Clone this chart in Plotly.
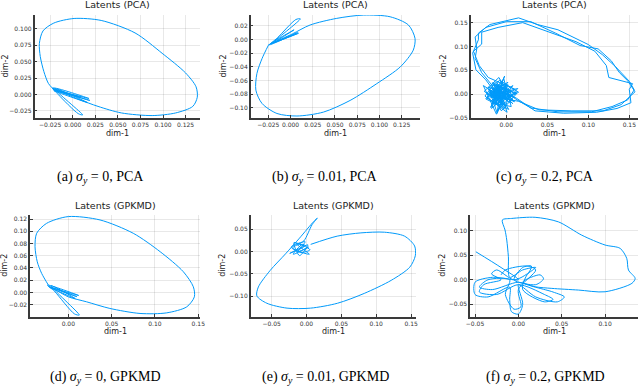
import plotly.graph_objects as go

W, H = 640, 388
LINE = "#009AFA"

# ---------------- data ----------------
a_x = [-0.022, -0.027, -0.032, -0.036, -0.037, -0.033, -0.021, 0.0015, 0.0315, 0.069, 0.099, 0.125, 0.1366, 0.138,
       0.133, 0.114, 0.088, 0.054, 0.028, 0.008, -0.008,
       -0.022, 0.019, -0.021, 0.016, -0.020, 0.011, 0.006, -0.016, -0.022, 0.018, -0.020, 0.008, -0.023]
a_y = [0.009, 0.017, 0.035, 0.058, 0.078, 0.097, 0.109, 0.116, 0.113, 0.094, 0.063, 0.033, 0.012, -0.004,
       -0.018, -0.028, -0.032, -0.028, -0.018, -0.008, 0.001,
       0.008, -0.009, 0.006, -0.012, 0.009, -0.031, -0.029, 0.000, 0.010, -0.006, 0.007, -0.004, 0.010]

b_x = [-0.0248, -0.032, -0.0378, -0.039, -0.032, -0.0153, 0.0072, 0.037, 0.067, 0.097, 0.1235, 0.138, 0.140,
       0.1326, 0.112, 0.082, 0.052, 0.022, 0.002, -0.018,
       0.009, -0.022, 0.004, -0.020, 0.011, 0.006, -0.015, -0.024, 0.008, -0.025]
b_y = [-0.0083, -0.0278, -0.0497, -0.074, -0.0935, -0.108, -0.1117, -0.106, -0.089, -0.0645, -0.040, -0.0157, 0.0015,
       0.021, 0.033, 0.0355, 0.0307, 0.021, 0.008, -0.004,
       0.009, -0.006, 0.014, -0.005, 0.030, 0.029, 0.002, -0.008, 0.010, -0.008]

c_x = [0.013, -0.005, 0.008, -0.012, 0.002, -0.020, -0.003, -0.015, 0.010, -0.008, -0.025, -0.002, 0.006, -0.018,
       -0.010, 0.004, -0.022, -0.006, 0.012, -0.014,
       0.013, 0.030, 0.063, 0.104, 0.129, 0.148, 0.156, 0.150, 0.133, 0.117, 0.100, 0.063, 0.038, 0.015, -0.020,
       -0.034, -0.034, -0.041, -0.037, -0.025,
       -0.001, -0.027, -0.009, 0.007, -0.016, 0.001, -0.011, -0.021, 0.005, -0.007, 0.015, -0.013, -0.004, -0.024,
       0.003, -0.017, 0.009, -0.010, -0.002, -0.019,
       -0.012, -0.004, -0.016, -0.007, -0.013, 0.001, -0.010, -0.018, -0.006, -0.014, -0.002, -0.011, -0.020,
       -0.008, 0.003, -0.015, -0.005, -0.012, -0.019, -0.003,
       0.012, 0.035, 0.070, 0.110, 0.135, 0.152, 0.150, 0.154, 0.125, 0.122, 0.108, 0.085, 0.050, 0.020, -0.010,
       -0.030, -0.030, -0.040, -0.033, -0.022,
       0.011, -0.006, -0.028, -0.012, 0.002, -0.008, -0.016, 0.006, -0.003, -0.020, 0.014, -0.011, -0.005, -0.023,
       0.000, -0.014, 0.008, -0.009, -0.018, 0.004,
       -0.009, -0.015, -0.004, -0.012, -0.017, -0.006, -0.010, -0.001, -0.013, -0.008, -0.016, -0.005, -0.011,
       -0.002, -0.014, -0.007,
       0.015, 0.040, 0.080, 0.118, 0.140, 0.157, 0.148, 0.138, 0.128, 0.112, 0.090, 0.060, 0.030, 0.000, -0.025,
       -0.038, -0.036, -0.038, -0.030, -0.018,
       -0.004, -0.022, 0.010, -0.013, -0.026, 0.001, -0.009, 0.013, -0.017, -0.006]
c_y = [0.005, -0.012, 0.018, -0.004, 0.025, 0.002, -0.020, 0.012, -0.008, 0.030, -0.010, -0.030, 0.008, 0.020,
       -0.015, -0.002, 0.015, -0.035, 0.000, 0.022,
       -0.012, -0.029, -0.037, -0.037, -0.026, -0.012, 0.009, 0.027, 0.058, 0.083, 0.104, 0.135, 0.146, 0.160, 0.146,
       0.128, 0.114, 0.086, 0.051, 0.030,
       -0.025, 0.006, 0.035, -0.012, -0.005, 0.016, -0.040, 0.010, -0.018, 0.028, 0.004, -0.022, 0.014, -0.008,
       -0.032, 0.024, -0.014, 0.002, 0.038, -0.028,
       0.004, -0.010, 0.012, -0.002, 0.008, -0.014, 0.016, -0.006, 0.002, -0.018, 0.010, 0.020, -0.004, -0.012,
       0.006, 0.000, -0.020, 0.014, -0.008, 0.004,
       -0.008, -0.035, -0.040, -0.038, -0.030, -0.018, 0.010, 0.022, 0.035, 0.060, 0.090, 0.110, 0.132, 0.150, 0.140,
       0.130, 0.105, 0.090, 0.060, 0.035,
       0.010, -0.006, 0.018, -0.042, 0.020, 0.006, -0.018, -0.026, 0.032, -0.004, 0.012, -0.036, 0.026, 0.000,
       -0.010, 0.016, -0.020, 0.008, -0.030, 0.004,
       -0.006, 0.010, 0.002, -0.016, 0.006, -0.010, 0.014, -0.004, -0.022, 0.008, -0.002, 0.018, -0.012, 0.004,
       0.000, -0.008,
       -0.015, -0.033, -0.035, -0.035, -0.022, 0.005, 0.028, 0.045, 0.070, 0.095, 0.102, 0.128, 0.152, 0.152, 0.140,
       0.120, 0.095, 0.075, 0.045, 0.020,
       -0.022, 0.010, -0.016, 0.026, -0.004, -0.038, 0.014, 0.002, -0.012, 0.006]

d_x = [-0.023, -0.0307, -0.0358, -0.0384, -0.0365, -0.025, 0.0, 0.0366, 0.075, 0.106, 0.1328, 0.1443, 0.1455, 0.1367,
       0.1136, 0.0828, 0.048, 0.0212, 0.0, -0.012,
       -0.023, 0.010, -0.021, 0.008, -0.020, 0.0127, 0.007, -0.016, -0.024, 0.012, -0.022]
d_y = [0.012, 0.031, 0.050, 0.0747, 0.0967, 0.113, 0.124, 0.1185, 0.0967, 0.0666, 0.0338, 0.0092, -0.0072, -0.0236,
       -0.0334, -0.0344, -0.0262, -0.0154, -0.0072, 0.002,
       0.010, -0.007, 0.008, -0.010, 0.011, -0.037, -0.035, 0.002, 0.012, -0.005, 0.009]

e_x = [0.006, 0.044, 0.078, 0.1117, 0.1406, 0.155, 0.156, 0.148, 0.1214, 0.0828, 0.0444, 0.0058, -0.0279, -0.0568,
       -0.0712, -0.069, -0.052, -0.030, -0.010, 0.0105, 0.0155, 0.008, -0.004,
       -0.020, 0.004, -0.015, -0.003, -0.024, 0.002, -0.010, -0.018, 0.005, -0.008, -0.022, -0.002, -0.012, 0.003,
       -0.019, -0.006, 0.000]
e_y = [0.016, 0.0344, 0.0417, 0.0432, 0.0344, 0.0125, -0.0094, -0.035, -0.0643, -0.0934, -0.1154, -0.1263, -0.1263,
       -0.1154, -0.099, -0.079, -0.042, -0.005, 0.030, 0.0673, 0.0746, 0.060, 0.0235,
       0.008, -0.006, 0.018, 0.012, -0.004, 0.015, -0.009, 0.020, 0.004, -0.002, 0.010, 0.022, 0.000, 0.010,
       -0.006, 0.016, 0.012]

f_x = [-0.049, -0.02, 0.0, -0.03, -0.05, -0.05, -0.035, -0.01, -0.01, -0.008, 0.0, 0.005, 0.0, 0.02, 0.045, 0.053,
       0.04, 0.005, 0.025, 0.029, 0.02, -0.005, 0.005, 0.015, 0.012, -0.005, -0.025, -0.031, -0.02, -0.04, -0.045,
       -0.025, 0.0, 0.03, 0.04, 0.03, 0.005, 0.01, 0.02, 0.005, -0.01,
       -0.0115, -0.0134, -0.0154, -0.0185, -0.0076, 0.0193, 0.0462, 0.073, 0.10, 0.1174, 0.125, 0.127, 0.1347, 0.131,
       0.10, 0.0693, 0.0386, 0.0193, 0.0,
       -0.03, -0.045, -0.035, -0.01, -0.015, -0.005, 0.003, 0.0, 0.02, 0.01, -0.015, -0.02]
f_y = [0.057, 0.025, 0.0, 0.005, -0.005, -0.03, -0.035, -0.015, -0.04, -0.065, -0.07, -0.05, -0.01, -0.035, -0.045,
       -0.035, -0.025, -0.005, 0.01, 0.002, -0.01, 0.0, 0.025, 0.028, 0.015, 0.0, 0.02, 0.012, 0.0, -0.01, -0.025,
       -0.03, -0.01, -0.03, -0.04, -0.045, -0.02, 0.01, 0.025, 0.02, 0.005,
       0.047, 0.081, 0.1014, 0.122, 0.125, 0.1273, 0.118, 0.091, 0.0708, 0.064, 0.0437, 0.0198, 0.0029, -0.0073,
       -0.0245, -0.021, -0.0176, -0.0143, -0.005,
       -0.02, -0.015, 0.0, 0.0, -0.03, -0.06, -0.055, -0.02, 0.02, 0.028, 0.02, 0.01]

panel_titles = ["Latents (PCA)"] * 3 + ["Latents (GPKMD)"] * 3
captions = ["(a) <i>σ</i><sub><i>y</i></sub> = 0, PCA",
            "(b) <i>σ</i><sub><i>y</i></sub> = 0.01, PCA",
            "(c) <i>σ</i><sub><i>y</i></sub> = 0.2, PCA",
            "(d) <i>σ</i><sub><i>y</i></sub> = 0, GPKMD",
            "(e) <i>σ</i><sub><i>y</i></sub> = 0.01, GPKMD",
            "(f) <i>σ</i><sub><i>y</i></sub> = 0.2, GPKMD"]

xticks = [[-0.025, 0.0, 0.025, 0.05, 0.075, 0.1, 0.125],
          [-0.025, 0.0, 0.025, 0.05, 0.075, 0.1, 0.125],
          [0.0, 0.05, 0.1, 0.15],
          [0.0, 0.05, 0.1, 0.15],
          [-0.05, 0.0, 0.05, 0.1, 0.15],
          [-0.05, 0.0, 0.05, 0.1]]
yticks = [[-0.025, 0.0, 0.025, 0.05, 0.075, 0.1],
          [-0.1, -0.08, -0.06, -0.04, -0.02, 0.0, 0.02],
          [-0.05, 0.0, 0.05, 0.1, 0.15],
          [-0.02, 0.0, 0.02, 0.04, 0.06, 0.08, 0.1, 0.12],
          [-0.1, -0.05, 0.0, 0.05],
          [-0.05, 0.0, 0.05, 0.1]]
xfmt = [".3f", ".3f", ".2f", ".2f", ".2f", ".2f"]
yfmt = [".3f", ".2f", ".2f", ".2f", ".2f", ".2f"]

# ---------------- layout geometry ----------------
xranges = [[-0.0424, 0.141], [-0.0448, 0.1456], [-0.0434, 0.1606],
           [-0.0442, 0.152], [-0.080, 0.157], [-0.0558, 0.138]]
yranges = [[-0.0357, 0.1213], [-0.1146, 0.0356], [-0.05, 0.166],
           [-0.0397, 0.1266], [-0.1454, 0.0816], [-0.0753, 0.132]]
# pixel boxes: (left, right, top, bottom)
boxes = [(34.5, 200, 15, 118), (250.7, 420, 15, 118), (470.7, 638, 15, 118),
         (30, 200, 215, 316.7), (250.7, 416, 215, 316.7), (470, 638, 215, 316.7)]
ylabel_x = [5, 223, 443, 5, 223, 443]
caption_x = [100, 325, 545, 105, 325, 545]
caption_y = [178, 178, 178, 377, 377, 377]

series = [(a_x, a_y, "spline"), (b_x, b_y, "spline"), (c_x, c_y, "linear"),
          (d_x, d_y, "spline"), (e_x, e_y, "spline"), (f_x, f_y, "spline")]

fig = go.Figure()
annotations = []
for i, (sx, sy, shape) in enumerate(series):
    n = "" if i == 0 else str(i + 1)
    fig.add_trace(go.Scatter(x=sx, y=sy, mode="lines",
                             line=dict(color=LINE, width=1, shape=shape, smoothing=0.8),
                             xaxis="x" + n, yaxis="y" + n, showlegend=False, hoverinfo="skip"))
    l, r, t, b = boxes[i]
    common = dict(showline=True, linecolor="#3a3a3a", linewidth=1.5, showgrid=True,
                  gridcolor="rgba(0,0,0,0.09)", gridwidth=0.6, zeroline=False,
                  ticks="inside", ticklen=3, tickcolor="#3a3a3a", automargin=False,
                  tickfont=dict(family="DejaVu Sans", size=6, color="#333"), mirror=False)
    fig.update_layout(**{
        "xaxis" + n: dict(domain=[l / W, r / W], range=xranges[i], tickvals=xticks[i],
                          tickformat=xfmt[i], anchor="y" + n, **common),
        "yaxis" + n: dict(domain=[1 - b / H, 1 - t / H], range=yranges[i], tickvals=yticks[i],
                          tickformat=yfmt[i], anchor="x" + n, **common),
    })
    cx = (l + r) / 2 / W
    annotations.append(dict(text=panel_titles[i], x=cx, y=1 - (t - 10) / H, xref="paper", yref="paper",
                            showarrow=False, xanchor="center", yanchor="middle",
                            font=dict(family="DejaVu Sans", size=9.5, color="#222")))
    annotations.append(dict(text="dim-1", x=cx, y=1 - (b + 15) / H, xref="paper", yref="paper",
                            showarrow=False, xanchor="center", yanchor="middle",
                            font=dict(family="DejaVu Sans", size=8, color="#222")))
    annotations.append(dict(text="dim-2", x=ylabel_x[i] / W, y=1 - (t + b) / 2 / H, xref="paper", yref="paper",
                            showarrow=False, xanchor="center", yanchor="middle", textangle=-90,
                            font=dict(family="DejaVu Sans", size=8, color="#222")))
    annotations.append(dict(text=captions[i], x=caption_x[i] / W, y=1 - caption_y[i] / H, xref="paper",
                            yref="paper", showarrow=False, xanchor="center", yanchor="middle",
                            font=dict(family="Liberation Serif", size=14, color="#000")))

fig.update_layout(width=W, height=H, margin=dict(l=0, r=0, t=0, b=0),
                  paper_bgcolor="white", plot_bgcolor="white", annotations=annotations)
fig.write_html("out.html", config={"displayModeBar": False},
               post_script="document.body.style.margin='0';document.body.style.overflow='hidden';")
